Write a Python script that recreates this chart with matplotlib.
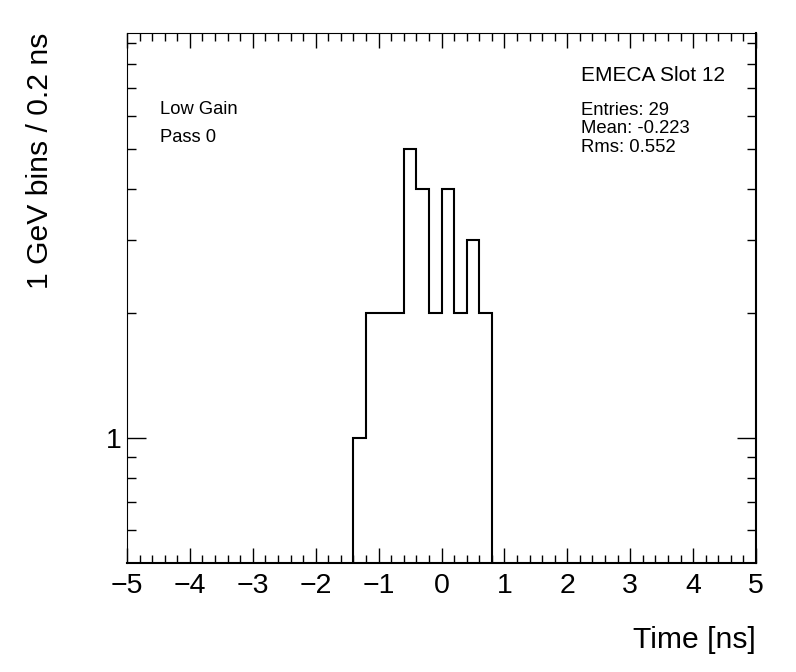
import numpy as np
import matplotlib
matplotlib.use("Agg")
import matplotlib.pyplot as plt
from matplotlib.ticker import FixedLocator, NullFormatter, MultipleLocator

plt.rcParams['font.family'] = ['Liberation Sans', 'DejaVu Sans']

# Data
bin_lo = -1.4
bin_width = 0.2
counts = [1, 2, 2, 2, 5, 4, 2, 4, 2, 3, 2]
xlim = (-5, 5)
ylim = (0.5, 9.5)
title_text = "EMECA Slot 12"
stats_lines = ["Entries: 29", "Mean: -0.223", "Rms: 0.552"]
info_lines = ["Low Gain", "Pass 0"]
xlabel = "Time [ns]"
ylabel = "1 GeV bins / 0.2 ns"

W, H = 796, 672
fig = plt.figure(figsize=(W / 100, H / 100), dpi=100)
L, R, T, B = 127, 756, 33, 563
ax = fig.add_axes([L / W, 1 - B / H, (R - L) / W, (B - T) / H])

edges = bin_lo + bin_width * np.arange(len(counts) + 1)
ax.stairs(counts, edges, baseline=1e-3, color='black', linewidth=1.5)

ax.set_yscale('log')
ax.set_xlim(*xlim)
ax.set_ylim(*ylim)

# x ticks
ax.xaxis.set_major_locator(MultipleLocator(1))
ax.xaxis.set_minor_locator(MultipleLocator(0.2))
ax.tick_params(axis='x', which='both', direction='in', top=True, bottom=True,
               labelsize=20.5, pad=7)
ax.tick_params(axis='x', which='major', length=11, width=1)
ax.tick_params(axis='x', which='minor', length=5.5, width=1)

# y ticks
ax.yaxis.set_major_locator(FixedLocator([1]))
ax.yaxis.set_minor_locator(FixedLocator([0.6, 0.7, 0.8, 0.9, 2, 3, 4, 5, 6, 7, 8, 9]))
ax.yaxis.set_major_formatter(matplotlib.ticker.FuncFormatter(lambda v, p: "%g" % v))
ax.yaxis.set_minor_formatter(NullFormatter())
ax.tick_params(axis='y', which='both', direction='in', left=True, right=True,
               labelsize=20.5, pad=4)
ax.tick_params(axis='y', which='major', length=14, width=1)
ax.tick_params(axis='y', which='minor', length=6.5, width=1)

for s in ['left', 'top']:
    ax.spines[s].set_linewidth(0.8)
for s in ['right', 'bottom']:
    ax.spines[s].set_linewidth(1.5)

# texts
fig.text(581 / W, 1 - 81 / H, title_text, fontsize=15, ha='left', va='baseline')
stats_y = [115, 133, 152]
for s, yy in zip(stats_lines, stats_y):
    fig.text(581 / W, 1 - yy / H, s, fontsize=13.3, ha='left', va='baseline')
info_y = [114, 142]
for s, yy in zip(info_lines, info_y):
    fig.text(160 / W, 1 - yy / H, s, fontsize=13.2, ha='left', va='baseline')

fig.text(R / W, 1 - 648 / H, xlabel, fontsize=21.7, ha='right', va='baseline')
fig.text(40 / W, 1 - T / H, ylabel, fontsize=21.7, ha='center', va='top', rotation=90)

fig.savefig("out.png", dpi=100)
